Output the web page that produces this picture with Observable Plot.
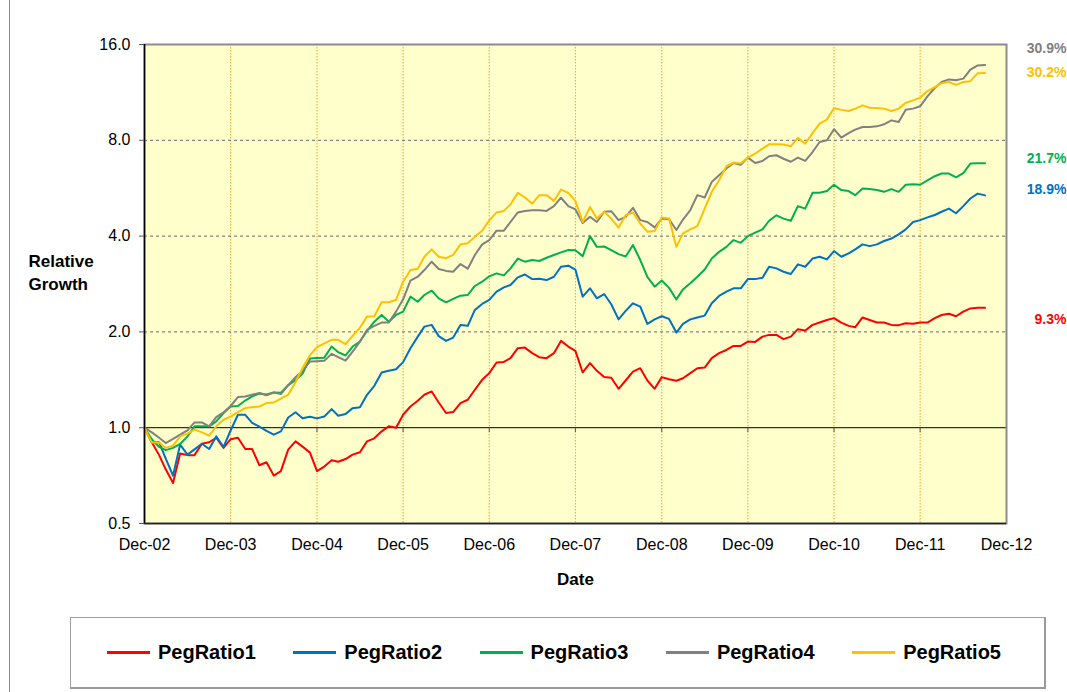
<!DOCTYPE html>
<html><head><meta charset="utf-8">
<script src="https://cdn.jsdelivr.net/npm/d3@7"></script>
<script src="https://cdn.jsdelivr.net/npm/@observablehq/plot@0.6"></script>
<style>
body{margin:0;background:#fff;font-family:"Liberation Sans",Arial,sans-serif;}
#wrap{position:relative;width:1067px;height:692px;overflow:hidden;background:#fff;}
#chart{position:absolute;left:0;top:0;}
#frameline{position:absolute;left:9px;top:0;width:1px;height:692px;background:#8a8a8a;}
#legend{position:absolute;left:70px;top:617px;width:976px;height:72px;border:1px solid #a0a0a0;border-right:2px solid #9a9a9a;border-bottom:2px solid #9a9a9a;box-sizing:border-box;display:flex;align-items:center;padding-left:36px;background:#fff;}
.item{display:flex;align-items:center;width:186.3px;flex:none;}
.sw{width:43px;height:2.5px;margin-right:8px;}
.lab{font-weight:bold;font-size:20px;color:#000;}
</style></head>
<body><div id="wrap"><div id="frameline"></div><div id="chart"></div><div id="legend"></div></div>
<script>
const seriesNames = ["PegRatio1","PegRatio2","PegRatio3","PegRatio4","PegRatio5"];
const seriesColors = ["#FF0000","#0070C0","#00B050","#808080","#FFC000"];
const growthLabels = ["9.3%","18.9%","21.7%","30.9%","30.2%"];
const xTickLabels = ["Dec-02","Dec-03","Dec-04","Dec-05","Dec-06","Dec-07","Dec-08","Dec-09","Dec-10","Dec-11","Dec-12"];
const yTicks = [0.5,1,2,4,8,16];
const firstMonth = "2002-12";

const pegRatio1 = [
1.0,0.90,0.82,0.74,0.67,0.83,0.82,0.82,0.89,0.90,0.93,0.864,
0.92,0.93,0.857,0.857,0.762,0.779,0.707,0.73,0.853,0.906,0.872,0.835,
0.73,0.755,0.79,0.782,0.797,0.823,0.837,0.906,0.926,0.974,1.01,1.0,
1.098,1.166,1.215,1.269,1.30,1.20,1.112,1.12,1.195,1.224,1.316,1.414,
1.484,1.603,1.61,1.654,1.778,1.785,1.715,1.666,1.654,1.715,1.874,1.799,
1.744,1.491,1.595,1.509,1.442,1.435,1.325,1.407,1.50,1.538,1.407,1.325,
1.442,1.42,1.404,1.43,1.484,1.538,1.545,1.654,1.715,1.755,1.807,1.807,
1.865,1.86,1.933,1.957,1.957,1.898,1.933,2.04,2.02,2.104,2.14,2.18,
2.21,2.14,2.089,2.07,2.22,2.18,2.14,2.14,2.104,2.1,2.13,2.12,
2.14,2.14,2.21,2.26,2.28,2.24,2.316,2.37,2.38,2.38];

const pegRatio2 = [
1.0,0.90,0.90,0.80,0.707,0.885,0.823,0.855,0.89,0.857,0.939,0.87,
0.98,1.098,1.098,1.036,1.007,0.978,0.951,0.974,1.077,1.118,1.07,1.083,
1.07,1.085,1.144,1.09,1.104,1.152,1.16,1.269,1.354,1.491,1.509,1.526,
1.607,1.778,1.933,2.078,2.104,1.94,1.874,1.92,2.104,2.09,2.344,2.448,
2.52,2.676,2.761,2.808,2.967,3.03,2.93,2.94,2.91,2.98,3.205,3.23,
3.14,2.58,2.742,2.55,2.63,2.442,2.19,2.328,2.46,2.40,2.119,2.19,
2.24,2.197,1.99,2.119,2.19,2.22,2.25,2.46,2.594,2.676,2.742,2.742,
2.93,2.93,2.96,3.205,3.167,3.09,3.04,3.26,3.205,3.40,3.445,3.38,
3.59,3.445,3.53,3.633,3.767,3.72,3.767,3.86,3.93,4.05,4.2,4.43,
4.49,4.58,4.66,4.77,4.88,4.72,4.97,5.25,5.44,5.37];

const pegRatio3 = [
1.0,0.92,0.87,0.85,0.864,0.889,0.939,1.01,1.01,1.01,1.047,1.112,
1.166,1.17,1.217,1.254,1.28,1.272,1.29,1.288,1.36,1.41,1.48,1.65,
1.656,1.66,1.799,1.727,1.686,1.799,1.865,2.014,2.154,2.261,2.154,2.261,
2.316,2.581,2.488,2.612,2.695,2.55,2.478,2.54,2.6,2.612,2.788,2.876,
2.99,3.055,3.01,3.167,3.40,3.324,3.364,3.34,3.42,3.49,3.556,3.616,
3.61,3.46,4.0,3.70,3.71,3.616,3.51,3.45,3.75,3.364,2.98,2.774,
2.90,2.75,2.53,2.72,2.842,2.98,3.14,3.40,3.57,3.70,3.886,3.81,
4.0,4.1,4.2,4.47,4.65,4.54,4.47,4.97,4.88,5.47,5.47,5.54,
5.80,5.58,5.54,5.38,5.64,5.62,5.58,5.51,5.62,5.51,5.8,5.82,
5.8,5.99,6.17,6.29,6.29,6.12,6.31,6.76,6.77,6.77];

const pegRatio4 = [
1.0,0.967,0.93,0.895,0.922,0.951,0.981,1.039,1.039,1.01,1.08,1.117,
1.17,1.248,1.254,1.27,1.286,1.265,1.29,1.275,1.36,1.44,1.51,1.614,
1.618,1.622,1.706,1.666,1.625,1.735,1.865,2.029,2.089,2.139,2.139,2.316,
2.532,2.897,2.982,3.129,3.324,3.152,3.11,3.09,3.268,3.16,3.49,3.767,
3.886,4.16,4.16,4.43,4.747,4.80,4.82,4.82,4.80,4.97,5.28,4.97,
4.85,4.40,4.6,4.43,4.77,4.79,4.49,4.6,4.91,4.49,4.43,4.26,
4.54,4.52,4.18,4.51,4.83,5.38,5.29,5.92,6.21,6.52,6.79,6.70,
7.06,6.79,6.89,7.13,7.18,7.0,6.85,7.06,6.89,7.35,7.9,8.0,
8.67,8.16,8.43,8.64,8.81,8.81,8.85,8.98,9.24,9.13,9.98,10.06,
10.23,10.99,11.68,12.2,12.43,12.35,12.5,13.33,13.75,13.8];

const pegRatio5 = [
1.0,0.899,0.899,0.864,0.878,0.939,0.958,0.986,0.967,0.944,1.01,1.059,
1.083,1.12,1.153,1.16,1.166,1.195,1.2,1.235,1.27,1.39,1.54,1.69,
1.79,1.84,1.888,1.888,1.83,1.943,2.063,2.234,2.24,2.478,2.48,2.52,
2.876,3.129,3.16,3.445,3.633,3.445,3.41,3.49,3.767,3.8,3.98,4.16,
4.48,4.747,4.80,5.03,5.47,5.29,5.06,5.38,5.38,5.16,5.60,5.47,
5.16,4.43,4.94,4.54,4.77,4.54,4.25,4.65,4.747,4.38,4.13,4.15,
4.58,4.54,3.70,4.08,4.20,4.30,4.88,5.51,5.99,6.63,6.81,6.77,
7.06,7.27,7.53,7.77,7.77,7.76,7.66,8.14,7.80,8.43,9.03,9.29,
10.1,9.97,9.89,10.06,10.3,10.13,10.1,10.06,9.89,10.06,10.5,10.68,
10.89,11.42,11.76,12.1,12.2,11.95,12.2,12.27,13.0,13.03];

const allSeries = [pegRatio1, pegRatio2, pegRatio3, pegRatio4, pegRatio5];
const start = d3.utcParse("%Y-%m")(firstMonth);
const rows = allSeries.flatMap((vals, k) =>
  vals.map((v, i) => ({date: d3.utcMonth.offset(start, i), value: v, series: seriesNames[k]})));
const tickDates = xTickLabels.map(s => new Date(Date.UTC(2000 + +s.slice(4), 11, 1)));
const labelDy = [12, -6, -5, -16, 0];
const labelRows = allSeries.map((vals, k) => ({value: vals[vals.length - 1], series: seriesNames[k], label: growthLabels[k], dy: labelDy[k]}));

const chart = Plot.plot({
  width: 1067, height: 605,
  marginLeft: 144, marginRight: 61, marginTop: 44, marginBottom: 82,
  style: {fontFamily: '"Liberation Sans", Arial, sans-serif', background: "transparent", overflow: "visible", color: "#000"},
  x: {type: "utc", domain: [tickDates[0], tickDates[tickDates.length - 1]]},
  y: {type: "log", base: 2, domain: [0.5, 16]},
  color: {domain: seriesNames, range: seriesColors},
  marks: [
    Plot.frame({fill: "#FFFFCC", stroke: null}),
    Plot.ruleX(tickDates.slice(1, -1), {stroke: "#F5A623", strokeDasharray: "1.5,1.5"}),
    Plot.ruleY([2, 4, 8], {stroke: "#666", strokeDasharray: "3,3"}),
    Plot.ruleY([1], {stroke: "#000", strokeWidth: 1}),
    Plot.ruleX(tickDates.slice(1, -1), {y1: 1, y2: 0.965, stroke: "#555"}),
    Plot.line(rows, {x: "date", y: "value", z: "series", stroke: "series", strokeWidth: 2}),
    Plot.frame({stroke: "#8c8c8c", strokeWidth: 2}),
    Plot.ruleX([tickDates[0]], {stroke: "#000", strokeWidth: 1.5}),
    Plot.ruleY([0.5], {stroke: "#222", strokeWidth: 1.5}),
    Plot.axisY({ticks: yTicks, tickFormat: d => d.toFixed(1), tickSize: 5, tickPadding: 9, fontSize: 16, label: null, stroke: "#555"}),
    Plot.axisX({ticks: tickDates, tickFormat: d => xTickLabels[tickDates.findIndex(t => +t === +d)], tickSize: 0, tickPadding: 15, fontSize: 16, label: null}),
    Plot.text(["Date"], {frameAnchor: "bottom", dy: 61, fontWeight: "bold", fontSize: 17}),
    Plot.text(["Relative\nGrowth"], {frameAnchor: "left", dx: -116, dy: -13, textAnchor: "start", fontWeight: "bold", fontSize: 17, lineHeight: 1.35}),
    ...labelRows.map(r => Plot.text([r], {frameAnchor: "right", y: "value", text: "label", fill: "series", dx: 60, dy: r.dy, textAnchor: "end", fontWeight: "bold", fontSize: 14}))
  ]
});
document.getElementById("chart").appendChild(chart);

const legend = document.getElementById("legend");
seriesNames.forEach((name, k) => {
  const item = document.createElement("div");
  item.className = "item";
  const sw = document.createElement("div");
  sw.className = "sw";
  sw.style.background = seriesColors[k];
  const lab = document.createElement("span");
  lab.className = "lab";
  lab.textContent = name;
  item.appendChild(sw); item.appendChild(lab);
  legend.appendChild(item);
});
</script></body></html>
